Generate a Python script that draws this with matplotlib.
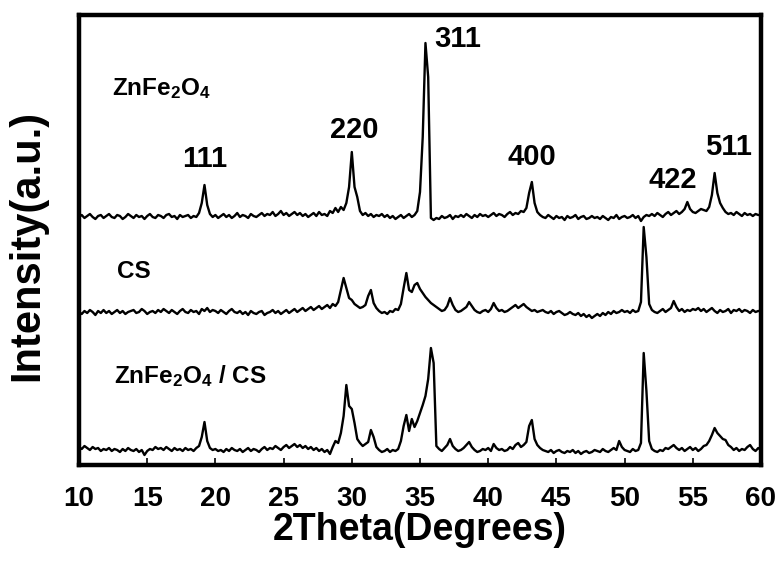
import matplotlib
matplotlib.use("Agg")
import matplotlib.pyplot as plt
import numpy as np

plt.rcParams["font.family"] = ["Liberation Sans", "DejaVu Sans"]
plt.rcParams["font.weight"] = "bold"
plt.rcParams["mathtext.fontset"] = "custom"
plt.rcParams["mathtext.rm"] = "Liberation Sans:bold"
plt.rcParams["mathtext.bf"] = "Liberation Sans:bold"
plt.rcParams["mathtext.it"] = "Liberation Sans:bold"

# scan grid, 10..60 deg in 0.2 deg steps
two_theta = np.linspace(10, 60, 251)

# intensities above each pattern's own baseline (a.u.)
zn_fe2o4 = [
    0, 2, -1, 1, 3, 0, -2, 1, 2, -1,
    1, 3, 0, -1, 2, 1, -2, 0, 3, 1,
    -1, 2, 0, 1, -2, 1, 3, 0, -1, 2,
    1, -1, 2, 3, 0, 1, -2, 2, 0, 1,
    2, -1, 1, 0, 4, 14, 32, 12, 3, 0,
    2, -1, 1, 3, 0, 2, -1, 1, 4, 0,
    2, 1, -1, 3, 1, 0, 2, 4, 1, 3,
    2, 5, 1, 3, 6, 2, 4, 1, 3, 5,
    2, 4, 1, 3, 0, 2, 4, 1, 5, 2,
    3, 1, 6, 4, 9, 5, 10, 7, 14, 30,
    65, 30, 20, 6, 2, 4, 1, 3, 0, 2,
    1, 3, 0, 2, -1, 1, -2, 0, 2, -1,
    1, 3, 0, 2, 6, 25, 80, 174, 140, -1,
    -3, -1, -2, 1, -1, 0, 2, -2, 1, 0,
    2, 0, 3, 1, -1, 2, 0, 3, 1, 2,
    0, 2, 4, 1, 3, 2, 0, 3, 5, 2,
    4, 3, 6, 5, 9, 24, 35, 14, 5, 2,
    0, -1, 2, 0, -2, 1, -1, 0, -3, 1,
    -1, 0, 2, -2, 0, 1, -2, -1, 1, -1,
    0, -2, 1, -1, -3, 0, -1, 2, -2, 0,
    1, -1, 0, 2, -1, 1, -4, 0, 2, 1,
    3, 1, 4, 2, 0, 3, 5, 2, 4, 6,
    3, 5, 8, 15, 8, 5, 4, 6, 8, 7,
    6, 10, 22, 44, 24, 14, 9, 5, 3, 4,
    2, 5, 3, 1, 4, 2, 3, 1, 3, 2,
    2,
]

cs = [
    0, -2, 1, -1, 2, 0, -3, 1, -1, 2,
    -1, 1, -2, 0, 2, -1, 1, -2, 0, 1,
    2, -1, 0, 3, 1, -2, 0, 1, -1, 2,
    0, 3, 1, -1, 2, 0, -2, 1, 3, 0,
    -1, 2, 0, 1, -2, 3, 1, 4, 0, 2,
    1, -1, 2, 0, -2, 1, 3, 0, -1, 1,
    -2, 0, -3, 1, -1, -2, 0, 1, -3, -1,
    0, 2, -1, 1, -2, 0, 2, -1, 1, 3,
    0, 2, 4, 1, 3, 5, 2, 4, 6, 3,
    5, 7, 4, 8, 6, 10, 22, 34, 24, 14,
    12, 8, 6, 4, 5, 7, 16, 22, 9, 4,
    1, -1, 0, -2, 1, 0, 3, 2, 8, 24,
    39, 22, 20, 27, 29, 23, 19, 15, 12, 9,
    7, 5, 3, 1, 2, 6, 14, 7, 2, 0,
    1, 3, 5, 10, 6, 2, 0, -1, 1, 2,
    0, 3, 9, 4, 1, 2, 0, 1, 3, 5,
    7, 4, 6, 8, 5, 3, 1, 2, 0, 1,
    2, 0, -1, 1, -2, 0, 1, -1, -3, -2,
    0, -2, -3, -1, -4, -2, -5, -3, -6, -4,
    -2, -4, -1, -3, 0, -2, 1, -1, 0, 2,
    0, 1, -1, 2, 0, 1, 10, 85, 55, 8,
    2, 0, -1, 1, 3, 0, 2, 4, 11, 5,
    1, 3, 0, 2, 1, 3, 2, 4, 1, 3,
    0, 2, 4, 1, -1, 2, 0, 1, 3, -1,
    2, 1, 3, 0, 2, 1, -1, 2, 0, 1,
    1,
]

zn_fe2o4_cs = [
    4, 2, 5, 3, 1, 4, 2, 3, 0, 2,
    1, 3, 0, 2, 1, -1, 2, 0, 3, 1,
    0, 2, -1, 1, -4, 0, 2, 1, 4, 2,
    3, 1, 4, 2, 0, 3, 1, 2, 0, 3,
    1, 2, 0, 3, 5, 14, 29, 10, 3, 1,
    2, 0, 1, -1, 2, 0, 3, 1, 0, 2,
    -1, 1, 3, 0, 2, 1, -1, 2, 4, 1,
    3, 2, 5, 3, 1, 4, 6, 3, 5, 7,
    4, 6, 3, 5, 2, 4, 1, 3, 0, 2,
    -1, 1, -3, 4, 10, 8, 18, 35, 66, 45,
    42, 28, 12, 8, 5, 7, 9, 21, 14, 4,
    1, -1, 0, 2, -1, 1, 0, 2, 10, 25,
    36, 20, 32, 24, 30, 38, 46, 55, 72, 103,
    88, 5, 2, 0, 3, 6, 12, 5, 2, 0,
    1, 3, 6, 9, 4, 1, -1, 0, 2, 1,
    3, 0, 7, 3, 1, 2, 0, 1, 4, 2,
    6, 8, 4, 6, 9, 25, 31, 12, 6, 3,
    1, 0, -1, 1, -2, 0, 1, -1, -2, 0,
    -1, 1, -2, 0, -3, -1, 0, -2, -1, 1,
    0, -1, 2, 0, -1, 1, 3, 1, 10, 4,
    1, 0, -1, 2, 0, 1, 8, 98, 60, 10,
    2, 0, -1, 1, 0, 3, 2, 4, 6, 3,
    1, 3, 0, 2, 4, 1, 3, 0, 2, 5,
    6, 10, 16, 23, 18, 15, 12, 11, 6, 4,
    1, 3, 0, 2, 1, 4, 6, 2, 0, 3,
    1,
]

sample_names = [r"ZnFe$_2$O$_4$", "CS", r"ZnFe$_2$O$_4$ / CS"]
hkl_labels = ["111", "220", "311", "400", "422", "511"]
hkl_positions = [19.2, 30.2, 37.8, 43.2, 53.55, 57.6]

# layout (vertical stacking of the patterns)
offsets = [248, 153, 14]
name_xy = [(12.4, 370), (12.8, 187), (12.6, 82)]
hkl_y = [298, 327, 418, 300, 277, 310]

fig = plt.figure(figsize=(7.77, 5.65), dpi=100)
ax = fig.add_axes([79 / 777, 1 - 465 / 565, 682 / 777, 450 / 565])

for series, off in zip([zn_fe2o4, cs, zn_fe2o4_cs], offsets):
    ax.plot(two_theta, np.array(series) + off, color="black", linewidth=1.7)

for name, (x, y) in zip(sample_names, name_xy):
    ax.text(x, y, name, fontsize=17.5, fontweight="bold", va="baseline", ha="left")

for lab, x, y in zip(hkl_labels, hkl_positions, hkl_y):
    ax.text(x, y, lab, fontsize=21, fontweight="bold", va="baseline", ha="center")

ax.set_xlim(10, 60)
ax.set_ylim(0, 450)
ax.set_xticks(np.arange(10, 61, 5))
ax.set_yticks([])
ax.tick_params(axis="x", direction="in", length=5, width=1.2, pad=15, labelsize=20)
for sp in ax.spines.values():
    sp.set_linewidth(3.2)

fig.text(420 / 777, 1 - 540 / 565, "2Theta(Degrees)", fontsize=27, fontweight="bold",
         ha="center", va="baseline")
fig.text(27 / 777, 1 - 245 / 565, "Intensity(a.u.)", fontsize=30, fontweight="bold",
         ha="center", va="center", rotation=90)

fig.savefig("out.png", dpi=100)
